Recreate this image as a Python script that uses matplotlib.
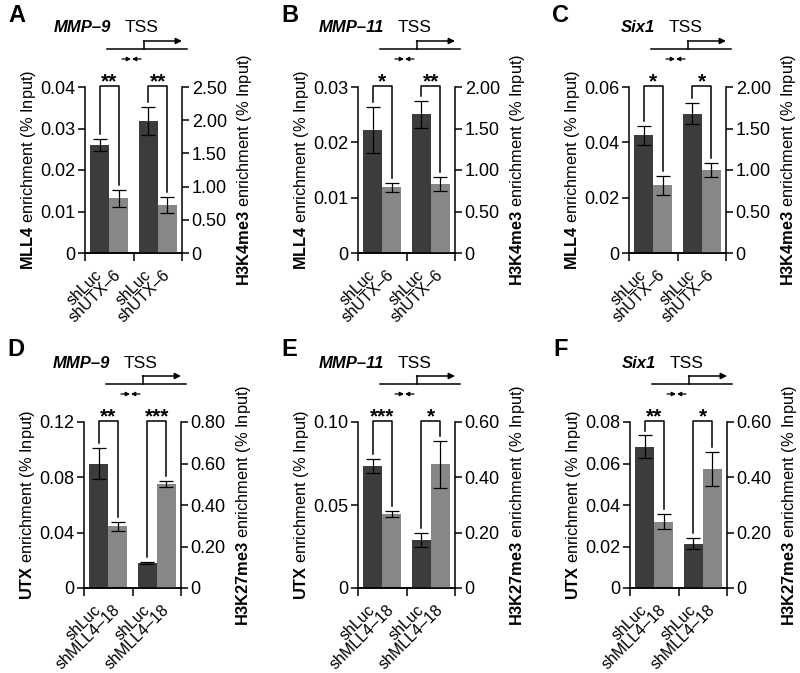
import matplotlib
matplotlib.use("Agg")
import matplotlib.pyplot as plt
import matplotlib.transforms as mtransforms
import numpy as np

plt.rcParams['font.family'] = ['Liberation Sans', 'DejaVu Sans']
plt.rcParams['mathtext.fontset'] = 'custom'
plt.rcParams['mathtext.rm'] = 'Liberation Sans'
plt.rcParams['mathtext.bf'] = 'Liberation Sans:bold'

# panel info
letters = ['A', 'B', 'C', 'D', 'E', 'F']
genes = ['MMP–9', 'MMP–11', 'Six1', 'MMP–9', 'MMP–11', 'Six1']
knockdowns = ['shUTX–6'] * 3 + ['shMLL4–18'] * 3
left_proteins = ['MLL4'] * 3 + ['UTX'] * 3
right_marks = ['H3K4me3'] * 3 + ['H3K27me3'] * 3

# axis ranges
left_max = [0.04, 0.03, 0.06, 0.12, 0.10, 0.08]
left_step = [0.01, 0.01, 0.02, 0.04, 0.05, 0.02]
right_max = [2.5, 2.0, 2.0, 0.8, 0.6, 0.6]
right_step = [0.5, 0.5, 0.5, 0.2, 0.2, 0.2]

# left group (protein, left axis): shLuc, knockdown
left_means = [[0.0260, 0.0132], [0.0222, 0.0119], [0.0425, 0.0245],
              [0.0900, 0.0445], [0.0735, 0.0446], [0.0680, 0.0320]]
left_errs = [[0.0015, 0.0020], [0.0041, 0.0008], [0.0033, 0.0034],
             [0.0115, 0.0035], [0.0040, 0.0016], [0.0055, 0.0038]]
# right group (histone mark, right axis): shLuc, knockdown
right_means = [[1.99, 0.72], [1.67, 0.83], [1.68, 1.00],
               [0.120, 0.503], [0.174, 0.447], [0.160, 0.430]]
right_errs = [[0.21, 0.12], [0.16, 0.08], [0.13, 0.08],
              [0.004, 0.015], [0.024, 0.085], [0.020, 0.063]]

stars_left = ['**', '*', '*', '**', '***', '**']
stars_right = ['**', '**', '*', '***', '*', '*']

DARK = '#3c3c3c'
LIGHT = '#878787'
W, H = 800, 673

# panel placement in pixels (left spine, top of plot area)
panel_x = [85, 358, 629, 84, 358, 630]
panel_top = [87, 87, 87, 422, 422, 422]
ax_w, ax_h = 97, 166

fig = plt.figure(figsize=(8, 6.73), dpi=100)
ov = fig.add_axes([0, 0, 1, 1])
ov.set_xlim(0, W)
ov.set_ylim(H, 0)
ov.axis('off')

ekw = dict(ecolor='black', elinewidth=0.9, capsize=5, capthick=0.9)


def fmt(v):
    return '0' if v == 0 else f'{v:.2f}'


for i in range(6):
    x0, t = panel_x[i], panel_top[i]
    ax = fig.add_axes([x0 / W, (H - t - ax_h) / H, ax_w / W, ax_h / H])
    ax2 = ax.twinx()

    ax.bar([-0.2, 0.2], left_means[i], width=0.39, color=[DARK, LIGHT],
           yerr=left_errs[i], error_kw=ekw)
    ax2.bar([0.8, 1.2], right_means[i], width=0.39, color=[DARK, LIGHT],
            yerr=right_errs[i], error_kw=ekw)

    ax.set_xlim(-0.5, 1.5)
    ax.set_ylim(0, left_max[i])
    ax2.set_ylim(0, right_max[i])

    lt = np.arange(0, left_max[i] + left_step[i] / 2, left_step[i])
    rt = np.arange(0, right_max[i] + right_step[i] / 2, right_step[i])
    ax.set_yticks(lt)
    ax.set_yticklabels([fmt(v) for v in lt])
    ax2.set_yticks(rt)
    ax2.set_yticklabels([fmt(v) for v in rt])

    ax.set_xticks([-0.5, 0.5, 1.5])
    ax.set_xticklabels([])
    ax.set_xticks([-0.2, 0.2, 0.8, 1.2], minor=True)
    ax.set_xticklabels(['shLuc', knockdowns[i], 'shLuc', knockdowns[i]], minor=True,
                       rotation=45, ha='right', va='center', rotation_mode='anchor',
                       fontsize=11.5)
    ax.tick_params(axis='x', which='major', direction='out', length=6, width=1.1)
    ax.tick_params(axis='x', which='minor', length=0, pad=14)
    ax.tick_params(axis='y', direction='out', length=5, width=1.1, labelsize=13, pad=2)
    ax2.tick_params(axis='y', direction='out', length=5, width=1.1, labelsize=13, pad=2)

    for a in (ax, ax2):
        a.spines['top'].set_visible(False)
        for s in a.spines.values():
            s.set_linewidth(1.1)
    ax.spines['right'].set_visible(False)
    ax2.spines['left'].set_visible(False)

    ax.text(-0.58, 0.5, r'$\mathbf{%s}$ enrichment (%% Input)' % left_proteins[i],
            transform=ax.transAxes, rotation=90, ha='center', va='center', fontsize=11.8)
    ax2.text(1.64, 0.5, r'$\mathbf{%s}$ enrichment (%% Input)' % right_marks[i],
             transform=ax.transAxes, rotation=90, ha='center', va='center', fontsize=11.8)

    # significance brackets
    for a, xs, m, e, ymax, st in ((ax, (-0.2, 0.2), left_means[i], left_errs[i], left_max[i], stars_left[i]),
                                  (ax2, (0.8, 1.2), right_means[i], right_errs[i], right_max[i], stars_right[i])):
        gap = 0.03 * ymax
        yl = m[0] + e[0] + gap
        yr = m[1] + e[1] + gap
        ytop = ymax * 1.005
        a.plot([xs[0], xs[0], xs[1], xs[1]], [yl, ytop, ytop, yr],
               color='black', lw=1.1, clip_on=False)
        tr = mtransforms.blended_transform_factory(a.transData, a.transAxes)
        a.text((xs[0] + xs[1]) / 2, 1.0, st, transform=tr, ha='center', va='baseline',
               fontsize=15, fontweight='bold')

    # panel letter, gene name and promoter diagram
    ov.text(x0 - 77, t - 72, letters[i], fontsize=17, fontweight='bold', ha='left', va='center')
    ov.text(x0 + 26, t - 59, genes[i], fontsize=12, fontweight='bold', fontstyle='italic',
            ha='right', va='center')
    ov.text(x0 + 57, t - 59, 'TSS', fontsize=12.5, ha='center', va='center')
    ov.plot([x0 + 22, x0 + 102], [t - 38, t - 38], color='black', lw=1.1)
    ov.plot([x0 + 59, x0 + 59], [t - 38, t - 46], color='black', lw=1.1)
    ov.annotate('', xy=(x0 + 97, t - 46), xytext=(x0 + 58.5, t - 46),
                arrowprops=dict(arrowstyle='-|>', lw=1.1, color='black',
                                mutation_scale=9, shrinkA=0, shrinkB=0))
    ov.annotate('', xy=(x0 + 46, t - 28), xytext=(x0 + 37, t - 28),
                arrowprops=dict(arrowstyle='-|>', lw=0.9, color='black',
                                mutation_scale=6, shrinkA=0, shrinkB=0))
    ov.annotate('', xy=(x0 + 47, t - 28), xytext=(x0 + 56, t - 28),
                arrowprops=dict(arrowstyle='-|>', lw=0.9, color='black',
                                mutation_scale=6, shrinkA=0, shrinkB=0))

fig.savefig('out.png', dpi=100)
